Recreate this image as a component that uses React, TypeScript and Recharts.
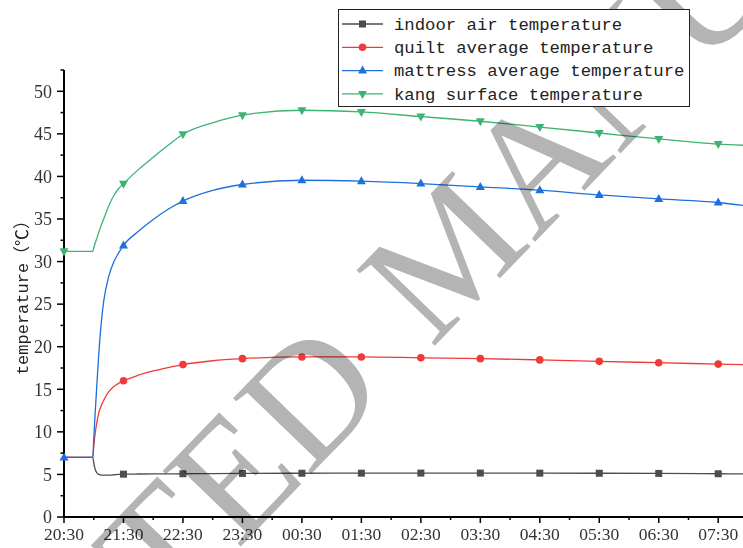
import React from "react";
import { LineChart, Line, XAxis, YAxis } from "recharts";

// minutes after 20:30
const minutes = [0, 29, 30, 31, 33, 35, 38, 40, 45, 50, 55, 60, 75, 90, 105, 120, 150, 180, 240, 300, 360, 420, 480, 540, 600, 660, 685];

const indoorAir = [7.0, 7.0, 6.4, 5.8, 5.2, 5.0, 4.92, 4.92, 4.93, 4.96, 5.0, 5.03, 5.05, 5.06, 5.07, 5.08, 5.1, 5.12, 5.14, 5.15, 5.16, 5.16, 5.15, 5.14, 5.12, 5.08, 5.07];
const quiltAvg = [7.0, 7.0, 8.2, 9.4, 11.0, 12.2, 13.2, 13.7, 14.7, 15.3, 15.7, 16.0, 16.65, 17.15, 17.55, 17.9, 18.35, 18.6, 18.8, 18.8, 18.7, 18.6, 18.45, 18.28, 18.12, 17.96, 17.9];
const mattressAvg = [7.0, 7.0, 9.2, 11.3, 15.3, 19.0, 23.3, 25.3, 28.2, 29.9, 31.0, 31.9, 33.55, 34.95, 36.15, 37.1, 38.35, 39.05, 39.55, 39.44, 39.16, 38.77, 38.38, 37.83, 37.36, 36.94, 36.6];
const kangSurface = [31.2, 31.2, 31.6, 32.0, 32.7, 33.4, 34.4, 35.0, 36.5, 37.7, 38.55, 39.15, 40.8, 42.25, 43.65, 44.95, 46.3, 47.2, 47.77, 47.57, 47.03, 46.48, 45.8, 45.1, 44.4, 43.8, 43.66];

const hourLabels = ["20:30", "21:30", "22:30", "23:30", "00:30", "01:30", "02:30", "03:30", "04:30", "05:30", "06:30", "07:30"];
const markerMinutes = [60, 120, 180, 240, 300, 360, 420, 480, 540, 600, 660];
const xTicks = [0, 30, 60, 90, 120, 150, 180, 210, 240, 270, 300, 330, 360, 390, 420, 450, 480, 510, 540, 570, 600, 630, 660];
const yTicks = [0, 2.5, 5, 7.5, 10, 12.5, 15, 17.5, 20, 22.5, 25, 27.5, 30, 32.5, 35, 37.5, 40, 42.5, 45, 47.5, 50, 52.5];

const series = [
  { key: "indoor", name: "indoor air temperature", color: "#4d4d4d", shape: "square", markStart: false },
  { key: "quilt", name: "quilt average temperature", color: "#f03a3a", shape: "circle", markStart: false },
  { key: "mattress", name: "mattress average temperature", color: "#1f6fdc", shape: "up", markStart: true },
  { key: "kang", name: "kang surface temperature", color: "#3cb371", shape: "down", markStart: true },
];

const data = minutes.map((t, i) => ({
  t,
  indoor: indoorAir[i],
  quilt: quiltAvg[i],
  mattress: mattressAvg[i],
  kang: kangSurface[i],
}));

const SERIF = "'Liberation Serif', 'DejaVu Serif', serif";
const MONO = "'Liberation Mono', 'Noto Sans CJK SC', monospace";

function Marker({ shape, x, y, color }: any) {
  if (shape === "square") return <rect x={x - 3.5} y={y - 3.5} width={7} height={7} fill={color} />;
  if (shape === "circle") return <circle cx={x} cy={y} r={3.8} fill={color} />;
  if (shape === "up")
    return <polygon points={`${x},${y - 5} ${x - 4.5},${y + 3} ${x + 4.5},${y + 3}`} fill={color} />;
  return <polygon points={`${x},${y + 5} ${x - 4.5},${y - 3} ${x + 4.5},${y - 3}`} fill={color} />;
}

function makeDot(shape: string, color: string, markStart: boolean) {
  return (props: any) => {
    const { cx, cy, payload, index } = props;
    const show = markerMinutes.includes(payload.t) || (markStart && payload.t === 0);
    if (!show || cx == null) return <g key={`d-${index}`} />;
    return (
      <g key={`d-${index}`}>
        <Marker shape={shape} x={cx} y={cy} color={color} />
      </g>
    );
  };
}

function XTick(props: any) {
  const { x, y, payload } = props;
  const major = payload.value % 60 === 0;
  return (
    <g>
      <line x1={x} x2={x} y1={y} y2={y + (major ? 6 : 3)} stroke="#000" strokeWidth={1.5} />
      {major && (
        <text x={x} y={y + 23} textAnchor="middle" fontFamily={SERIF} fontSize={17.5} fill="#333">
          {hourLabels[payload.value / 60]}
        </text>
      )}
    </g>
  );
}

function YTick(props: any) {
  const { x, y, payload } = props;
  const major = payload.value % 5 === 0;
  return (
    <g>
      <line x1={x - (major ? 7 : 3.5)} x2={x} y1={y} y2={y} stroke="#000" strokeWidth={1.5} />
      {major && (
        <text x={x - 12} y={y} dy="0.35em" textAnchor="end" fontFamily={SERIF} fontSize={18} fill="#333">
          {payload.value}
        </text>
      )}
    </g>
  );
}

function YTitle(props: any) {
  const { viewBox } = props;
  const cx = viewBox.x + 22;
  const cy = viewBox.y + viewBox.height / 2;
  return (
    <text
      x={cx}
      y={cy}
      dy="0.35em"
      transform={`rotate(-90 ${cx} ${cy})`}
      textAnchor="middle"
      fontFamily={MONO}
      fontSize={17}
      fill="#222"
    >
      temperature（℃）
    </text>
  );
}

function LegendBox() {
  return (
    <svg width={743} height={548} style={{ position: "absolute", left: 0, top: 0, pointerEvents: "none" }}>
      <rect x={338.5} y={9.5} width={351} height={97} fill="#fff" stroke="#222" strokeWidth={1} />
      {series.map((s, i) => {
        const cy = 24 + i * 23.3;
        return (
          <g key={s.key}>
            <line x1={342} x2={383} y1={cy} y2={cy} stroke={s.color} strokeWidth={1.3} />
            <Marker shape={s.shape} x={362.5} y={cy} color={s.color} />
            <text x={394} y={cy} dy="0.33em" fontFamily={MONO} fontSize={17.3} fill="#222">
              {s.name}
            </text>
          </g>
        );
      })}
    </svg>
  );
}

function Watermark() {
  return (
    <svg
      width={743}
      height={548}
      style={{ position: "absolute", left: 0, top: 0, pointerEvents: "none", mixBlendMode: "multiply" }}
    >
      <g transform="translate(372 332) rotate(-46)">
        <text x={-29} y={0} dy="0.33em" textAnchor="end" fontFamily={SERIF} fontSize={166} fill="#b4b4b4">
          UNEDITED
        </text>
        <text x={29} y={0} dy="0.33em" textAnchor="start" fontFamily={SERIF} fontSize={166} fill="#b4b4b4">
          MANUSCRIPT
        </text>
      </g>
    </svg>
  );
}

export default function App() {
  return (
    <div style={{ position: "absolute", left: 0, top: 0, width: 743, height: 548, background: "#fff", overflow: "hidden" }}>
      <LineChart width={743} height={548} data={data} margin={{ top: 70, right: 0, bottom: 0, left: 0 }}>
        <XAxis
          dataKey="t"
          type="number"
          domain={[0, 685]}
          ticks={xTicks}
          interval={0}
          height={31}
          tickSize={0}
          tickMargin={0}
          tickLine={false}
          axisLine={{ stroke: "#000", strokeWidth: 2 }}
          tick={<XTick />}
        />
        <YAxis
          type="number"
          domain={[0, 52.5]}
          ticks={yTicks}
          interval={0}
          width={64}
          tickSize={0}
          tickMargin={0}
          tickLine={false}
          axisLine={{ stroke: "#000", strokeWidth: 2 }}
          tick={<YTick />}
          label={<YTitle />}
        />
        {series.map((s) => (
          <Line
            key={s.key}
            dataKey={s.key}
            name={s.name}
            type="monotone"
            stroke={s.color}
            strokeWidth={1.3}
            dot={makeDot(s.shape, s.color, s.markStart)}
            activeDot={false}
            isAnimationActive={false}
          />
        ))}
      </LineChart>
      <Watermark />
      <LegendBox />
    </div>
  );
}
